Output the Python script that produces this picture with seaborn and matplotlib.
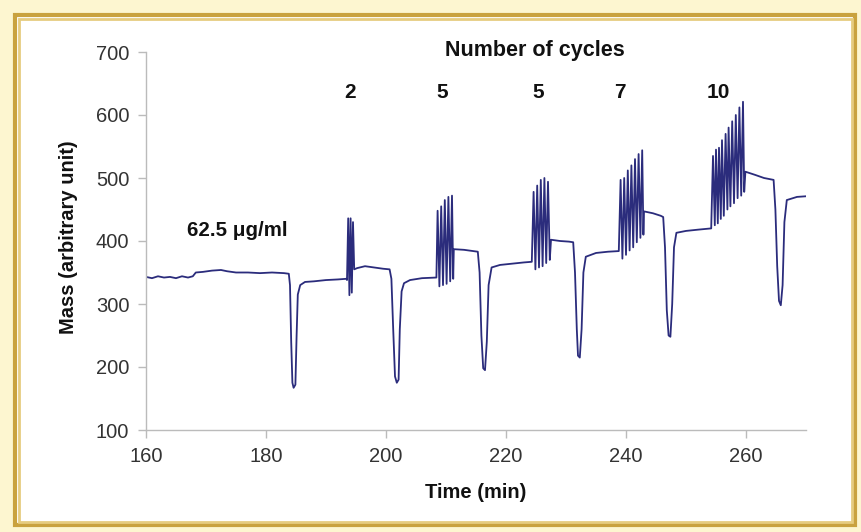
import numpy as np
import pandas as pd
import seaborn as sns
import matplotlib.pyplot as plt
from matplotlib.patches import Rectangle

# values
time_min = [
    160.0, 161.0, 162.0, 163.0, 164.0, 165.0, 166.0, 167.0, 167.8, 168.3,
    169.5, 171.0, 172.5, 173.5, 175.0, 177.0, 179.0, 181.0, 183.0, 183.8,
    184.0, 184.2, 184.4, 184.6, 184.9, 185.1, 185.3, 185.7, 186.5, 188.0,
    190.0, 192.0, 193.4,
    193.5, 193.7, 193.9, 194.1, 194.3, 194.5, 194.7,
    195.2, 196.5, 198.0, 199.5, 200.6, 200.9, 201.2, 201.5, 201.8, 202.1,
    202.3, 202.6, 203.0, 204.0, 206.0, 208.2,
    208.4, 208.6, 208.9, 209.2, 209.5, 209.8, 210.1, 210.4, 210.7, 211.0, 211.2,
    211.3, 213.0, 214.5, 215.3, 215.6, 215.9, 216.2, 216.5, 216.8, 217.1,
    217.6, 219.0, 221.0, 223.0, 224.3,
    224.6, 224.9, 225.2, 225.5, 225.8, 226.1, 226.4, 226.7, 227.0, 227.3,
    227.5, 229.0, 230.5, 231.2, 231.5, 231.8, 232.0, 232.3, 232.6, 232.9,
    233.3, 235.0, 237.0, 238.8,
    239.1, 239.4, 239.7, 240.0, 240.3, 240.6, 240.9, 241.2, 241.5, 241.8,
    242.1, 242.4, 242.7, 242.9,
    243.0, 244.5, 245.8, 246.2, 246.5, 246.8, 247.1, 247.4, 247.7, 248.0,
    248.4, 250.0, 252.0, 254.2,
    254.5, 254.8, 255.0, 255.3, 255.5, 255.8, 256.0, 256.3, 256.6, 256.9,
    257.1, 257.4, 257.7, 258.0, 258.3, 258.6, 258.9, 259.2, 259.5, 259.7,
    259.9, 261.5, 263.0, 264.6, 264.9, 265.2, 265.5, 265.8, 266.1, 266.4,
    266.8, 267.5, 268.5, 270.0,
]
mass = [
    343, 341, 344, 342, 343, 341, 344, 342, 344, 350,
    351, 353, 354, 352, 350, 350, 349, 350, 349, 348,
    330, 240, 175, 167, 172, 250, 315, 330, 335, 336,
    338, 339, 340,
    338, 436, 314, 436, 318, 430, 355,
    357, 360, 358, 356, 355, 340, 260, 185, 175, 180,
    260, 320, 333, 338, 341, 342,
    342, 448, 328, 455, 330, 465, 332, 470, 336, 472, 340,
    387, 386, 384, 383, 350, 250, 198, 195, 240, 330,
    358, 362, 364, 366, 367,
    478, 355, 488, 358, 497, 360, 500, 365, 494, 370,
    402, 400, 399, 398, 350, 260, 218, 215, 260, 350,
    375, 381, 383, 384,
    497, 372, 500, 378, 512, 385, 520, 390, 530, 398,
    538, 405, 544, 410,
    447, 444, 440, 438, 390, 290, 250, 248, 300, 390,
    413, 416, 418, 420,
    535, 425, 545, 428, 548, 435, 560, 440, 570, 450,
    580, 455, 590, 460, 600, 468, 612, 472, 621, 478,
    510, 505, 500, 497, 450, 360, 305, 298, 330, 430,
    465, 467, 470, 471,
]

cycle_labels = ['2', '5', '5', '7', '10']
cycle_x = [194.0, 209.3, 225.3, 239.0, 255.4]

x_ticks = [160, 180, 200, 220, 240, 260]
y_ticks = [100, 200, 300, 400, 500, 600, 700]

sns.set_style('white')
plt.rcParams['font.family'] = ['Liberation Sans', 'DejaVu Sans']

fig = plt.figure(figsize=(8.61, 5.32), dpi=100, facecolor='#fdf6d0')

# gold picture frame, kept behind the axes
fig.patches.append(Rectangle((15 / 861, 1 - 525 / 532), 840 / 861, 510 / 532,
                             transform=fig.transFigure, facecolor='white',
                             edgecolor='#c9a23f', lw=3.0, zorder=-2))
fig.patches.append(Rectangle((18.5 / 861, 1 - 521.5 / 532), 833 / 861, 503 / 532,
                             transform=fig.transFigure, facecolor='none',
                             edgecolor='#e6cc80', lw=2.0, zorder=-1))

ax = fig.add_axes([146 / 861, 1 - 430 / 532, 660 / 861, 378 / 532])
ax.set_facecolor('none')
ax.set_zorder(1)

df = pd.DataFrame({'Time (min)': time_min, 'Mass': mass})
sns.lineplot(data=df, x='Time (min)', y='Mass', ax=ax, sort=False,
             estimator=None, color='#2b2c7c', lw=1.3)

ax.set_xlim(160, 270)
ax.set_ylim(100, 700)
ax.set_xticks(x_ticks)
ax.set_yticks(y_ticks)
ax.tick_params(axis='both', labelsize=14.5, colors='#bbbbbb', labelcolor='#333333',
               length=6, width=1, direction='out', pad=6)
ax.tick_params(axis='x', bottom=True)
ax.tick_params(axis='y', left=True)
for side in ['top', 'right']:
    ax.spines[side].set_visible(False)
for side in ['left', 'bottom']:
    ax.spines[side].set_color('#bbbbbb')
    ax.spines[side].set_linewidth(1)

ax.set_xlabel('Time (min)', fontsize=14.5, fontweight='bold', color='#111111')
ax.set_ylabel('Mass (arbitrary unit)', fontsize=14.5, fontweight='bold', color='#111111')
ax.xaxis.set_label_coords(0.5, -0.14)
ax.yaxis.set_label_coords(-0.103, 0.51)

ax.text(224.8, 703, 'Number of cycles', ha='center', va='center',
        fontsize=15.5, fontweight='bold', color='#111111', clip_on=False)
for lab, xc in zip(cycle_labels, cycle_x):
    ax.text(xc, 636, lab, ha='center', va='center', fontsize=15,
            fontweight='bold', color='#111111')
ax.text(175.2, 417, '62.5 \u03bcg/ml', ha='center', va='center',
        fontsize=14.8, fontweight='bold', color='#111111')

fig.savefig('out.png', dpi=100, facecolor=fig.get_facecolor())
